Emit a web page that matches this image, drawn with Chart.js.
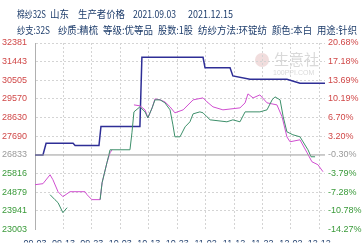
<!DOCTYPE html>
<html>
<head>
<meta charset="utf-8">
<script src="https://cdn.jsdelivr.net/npm/chart.js@4.4.1/dist/chart.umd.min.js"></script>
<style>body{margin:0;background:#fff}</style>
</head>
<body>
<canvas id="chart" width="362" height="243"></canvas>
<script>
// tick labels, top to bottom
var leftLabels = ["32381", "31443", "30505", "29570", "28630", "27690", "26833", "25816", "24879", "23941", "23003"];
var rightLabels = ["20.68%", "17.18%", "13.69%", "10.19%", "6.70%", "3.20%", "-0.30%", "-3.79%", "-7.28%", "-10.78%", "-14.27%"];
var xLabels = ["09-03", "09-13", "09-23", "10-03", "10-13", "10-23", "11-02", "11-12", "11-22", "12-02", "12-12"];

var leftMax = 32381, leftMin = 23003;
var rightMax = 20.68, rightMin = -14.27;

// price (left axis)
var priceDays = [0, 2.8, 3.9, 13.4, 14.1, 22.5, 23.2, 36.9, 37.6, 59.1, 59.8, 68.6, 69.6, 75.6, 88.6, 93.2, 102];
var priceVals = [26754, 26754, 27341, 27341, 27231, 27231, 28183, 28183, 31664, 31664, 31142, 31142, 30726, 30560, 30560, 30360, 30360];

// percent lines (right axis)
var pinkDays = [0, 2.8, 5.3, 6.3, 8.1, 9.8, 12.3, 17.6, 18.3, 20.0, 22.9, 23.6, 25.3, 26.4, 27.1, 30, 34.8, 36.9, 38.7, 39.7,
  41.2, 42.2, 44.0, 45.7, 47.5, 49.2, 52.1, 55.6, 59.1, 60.5, 62.6, 66.1, 72.1, 73.9, 74.9, 76.7, 79.1, 81.6, 85.1, 86.9,
  88.6, 89.7, 93.2, 95.7, 97.4, 99.5, 101.3];
var pinkVals = [-5.86, -5.67, -4.0, -4.93, -7.17, -8.10, -7.17, -7.17, -7.73, -8.66, -8.66, -5.49, -1.75, 0.12, 0.68, null, 9.09, 8.91, 8.16, 6.66,
  8.53, 10.21, 10.03, 9.65, 8.72, 7.60, 8.16, 10.03, 10.40, 9.65, 8.72, 8.16, 8.53, 9.47, 11.15, 10.40, 10.96, 9.47, 9.09, 6.85,
  3.11, 2.18, 2.55, 0.12, -1.56, -2.12, -3.43];

var greenDays = [5.3, 7.0, 8.1, 9.8, 11.3, 15, 22.9, 23.6, 25.3, 26.4, 33.4, 34.1, 34.8, 36.9, 38.7, 39.7, 41.2, 42.2, 44.0, 45.7,
  47.5, 48.5, 49.2, 51.0, 52.8, 54.5, 55.6, 58.0, 59.1, 60.5, 61.6, 67.5, 69.6, 72.1, 73.9, 79.1, 81.6, 83.4, 84.4, 86.2,
  87.3, 88.6, 90.7, 93.2, 96.0, 97.1, 98.5];
var greenVals = [-7.73, -8.66, -9.22, -11.09, -10.16, null, -8.66, -5.49, -1.75, 0.68, 0.68, 3.86, 7.78, 8.72, 7.78, 6.66, 8.53, 10.03, 10.03, 9.47,
  8.16, 5.35, 3.11, 3.11, 4.98, 5.92, 7.41, 7.78, 7.60, 6.85, 6.29, 5.92, 6.29, 5.92, 7.78, 7.78, 8.16, 10.03, 10.59, 10.03,
  6.85, 4.05, 3.49, 3.11, 0.68, -0.63, -0.63];

var title1 = [["棉纱32S", 17, 29], ["山东", 50, 19], ["生产者价格", 78, 47], ["2021.09.03", 133, 43], ["2021.12.15", 188, 45]];
var title2 = [["纱支:32S", 17, 33], ["纱质:精梳", 58, 40], ["等级:优等品", 103, 50], ["股数:1股", 158, 35],
  ["纺纱方法:环锭纺", 198, 69], ["颜色:本白", 272, 40], ["用途:针织", 317, 40]];

function pts(xs, ys) {
  return xs.map(function (x, i) { return { x: x, y: ys[i] }; });
}

var leftStep = (leftMax - leftMin) / (leftLabels.length - 1);
var baseLevel = leftMax - 6 * leftStep;

function labelColor(i) {
  if (i < 6) return "#d04848";
  if (i === 6) return "#9a9a9a";
  return "#3a9a3a";
}

var headerPlugin = {
  id: "header",
  beforeDraw: function (chart) {
    var ctx = chart.ctx;
    ctx.save();
    ctx.fillStyle = "rgba(200,120,120,0.25)";
    ctx.beginPath();
    ctx.arc(262, 60, 7, 0, Math.PI * 2);
    ctx.fill();
    ctx.fillStyle = "rgba(170,170,170,0.45)";
    ctx.font = '15px "Noto Sans CJK SC"';
    ctx.fillText("生意社", 274, 65);
    ctx.font = '7px "Liberation Sans"';
    ctx.fillText("100PPI.COM", 273, 75);
    ctx.restore();
  },
  afterDraw: function (chart) {
    var ctx = chart.ctx;
    ctx.save();
    ctx.fillStyle = "#1d3c6b";
    ctx.font = '10px "Noto Sans CJK SC"';
    title1.forEach(function (t) { ctx.fillText(t[0], t[1], 18, t[2]); });
    title2.forEach(function (t) { ctx.fillText(t[0], t[1], 34, t[2]); });
    ctx.restore();
  }
};

new Chart("chart", {
  type: "line",
  data: {
    datasets: [
      { data: [{ x: 0, y: baseLevel }, { x: 102, y: baseLevel }], borderColor: "#9a9a9a", borderWidth: 1, yAxisID: "y" },
      { data: pts(greenDays, greenVals), borderColor: "#3d8f6a", borderWidth: 1, yAxisID: "y1" },
      { data: pts(pinkDays, pinkVals), borderColor: "#d04fd0", borderWidth: 1, yAxisID: "y1" },
      { data: pts(priceDays, priceVals), borderColor: "#2e2e96", borderWidth: 1.5, yAxisID: "y" }
    ]
  },
  options: {
    responsive: false,
    animation: false,
    devicePixelRatio: 1,
    layout: { padding: { top: 43, left: 0, right: 0, bottom: 0 } },
    elements: { point: { radius: 0 }, line: { tension: 0 } },
    plugins: { legend: { display: false }, tooltip: { enabled: false } },
    scales: {
      x: {
        type: "linear",
        min: 0,
        max: 102,
        afterFit: function (s) { s.height = 13; },
        afterBuildTicks: function (s) {
          s.ticks = xLabels.map(function (l, i) { return { value: i * 10 }; });
        },
        ticks: {
          autoSkip: false,
          maxRotation: 0,
          padding: 9,
          color: "#1d3c6b",
          font: { family: "Liberation Sans", size: 9 },
          callback: function (v, i) { return xLabels[i]; }
        },
        grid: { color: "#d4d4d4", drawTicks: false },
        border: { display: false, dash: [2, 2] }
      },
      y: {
        position: "left",
        min: leftMin,
        max: leftMax,
        afterFit: function (s) { s.width = 35; },
        afterBuildTicks: function (s) {
          s.ticks = leftLabels.map(function (l, i) { return { value: leftMin + i * leftStep }; });
        },
        ticks: {
          autoSkip: false,
          padding: 8,
          font: { family: "Liberation Sans", size: 9 },
          color: function (c) { return labelColor(leftLabels.length - 1 - c.index); },
          callback: function (v, i) { return leftLabels[leftLabels.length - 1 - i]; }
        },
        grid: {
          drawTicks: false,
          color: function (c) { return c.index === 4 || c.index === 0 ? "rgba(0,0,0,0)" : "#d4d4d4"; }
        },
        border: { display: true, color: "#b0b0b0", dash: [2, 2] }
      },
      y1: {
        position: "right",
        min: rightMin,
        max: rightMax,
        afterFit: function (s) { s.width = 37; },
        afterBuildTicks: function (s) {
          var st = (rightMax - rightMin) / (rightLabels.length - 1);
          s.ticks = rightLabels.map(function (l, i) { return { value: rightMin + i * st }; });
        },
        ticks: {
          autoSkip: false,
          padding: 3,
          font: { family: "Liberation Sans", size: 9 },
          color: function (c) { return labelColor(rightLabels.length - 1 - c.index); },
          callback: function (v, i) { return rightLabels[rightLabels.length - 1 - i]; }
        },
        grid: { drawOnChartArea: false, drawTicks: false },
        border: { display: false }
      }
    }
  },
  plugins: [headerPlugin]
});
</script>
</body>
</html>
